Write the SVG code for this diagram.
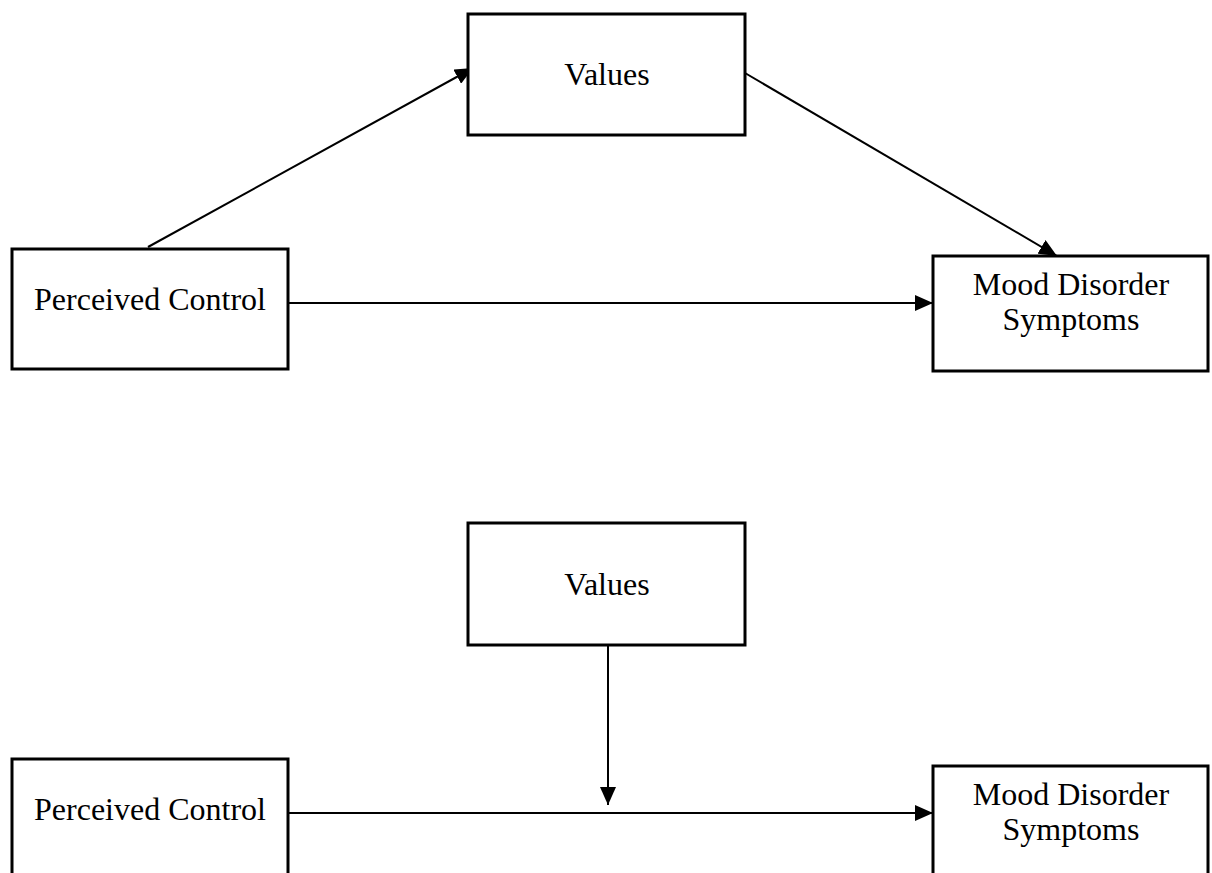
<svg xmlns="http://www.w3.org/2000/svg" width="1212" height="873" viewBox="0 0 1212 873">
<defs>
<style>
.box{fill:#fff;stroke:#000;stroke-width:3}
.t{font-family:"Liberation Serif","Times New Roman",serif;font-size:32px;fill:#000;text-anchor:middle}
.ln{stroke:#000;stroke-width:2;fill:none}
</style>
<marker id="ah" viewBox="0 0 18 16" refX="18" refY="8" markerWidth="18" markerHeight="16" markerUnits="userSpaceOnUse" orient="auto">
<path d="M0,0 L18,8 L0,16 Z" fill="#000"/>
</marker>
</defs>
<rect width="1212" height="873" fill="#fff"/>
<g id="connectors">
<line class="ln" x1="148" y1="247" x2="473" y2="68" marker-end="url(#ah)"/>
<line class="ln" x1="745" y1="73" x2="1057" y2="256" marker-end="url(#ah)"/>
<line class="ln" x1="288" y1="303" x2="933" y2="303" marker-end="url(#ah)"/>
<line class="ln" x1="608" y1="645" x2="608" y2="805" marker-end="url(#ah)"/>
<line class="ln" x1="288" y1="813" x2="933" y2="813" marker-end="url(#ah)"/>
</g>
<g id="values-top">
<rect class="box" x="468" y="14" width="277" height="121"/>
<text class="t" x="607" y="85">Values</text>
</g>
<g id="control-top">
<rect class="box" x="12" y="249" width="276" height="120"/>
<text class="t" x="150" y="310">Perceived Control</text>
</g>
<g id="mood-top">
<rect class="box" x="933" y="256" width="275" height="115"/>
<text class="t" x="1071" y="295">Mood Disorder</text>
<text class="t" x="1071" y="330">Symptoms</text>
</g>
<g id="values-bottom">
<rect class="box" x="468" y="523" width="277" height="122"/>
<text class="t" x="607" y="595">Values</text>
</g>
<g id="control-bottom">
<rect class="box" x="12" y="759" width="276" height="130"/>
<text class="t" x="150" y="820">Perceived Control</text>
</g>
<g id="mood-bottom">
<rect class="box" x="933" y="766" width="275" height="130"/>
<text class="t" x="1071" y="805">Mood Disorder</text>
<text class="t" x="1071" y="840">Symptoms</text>
</g>
</svg>
